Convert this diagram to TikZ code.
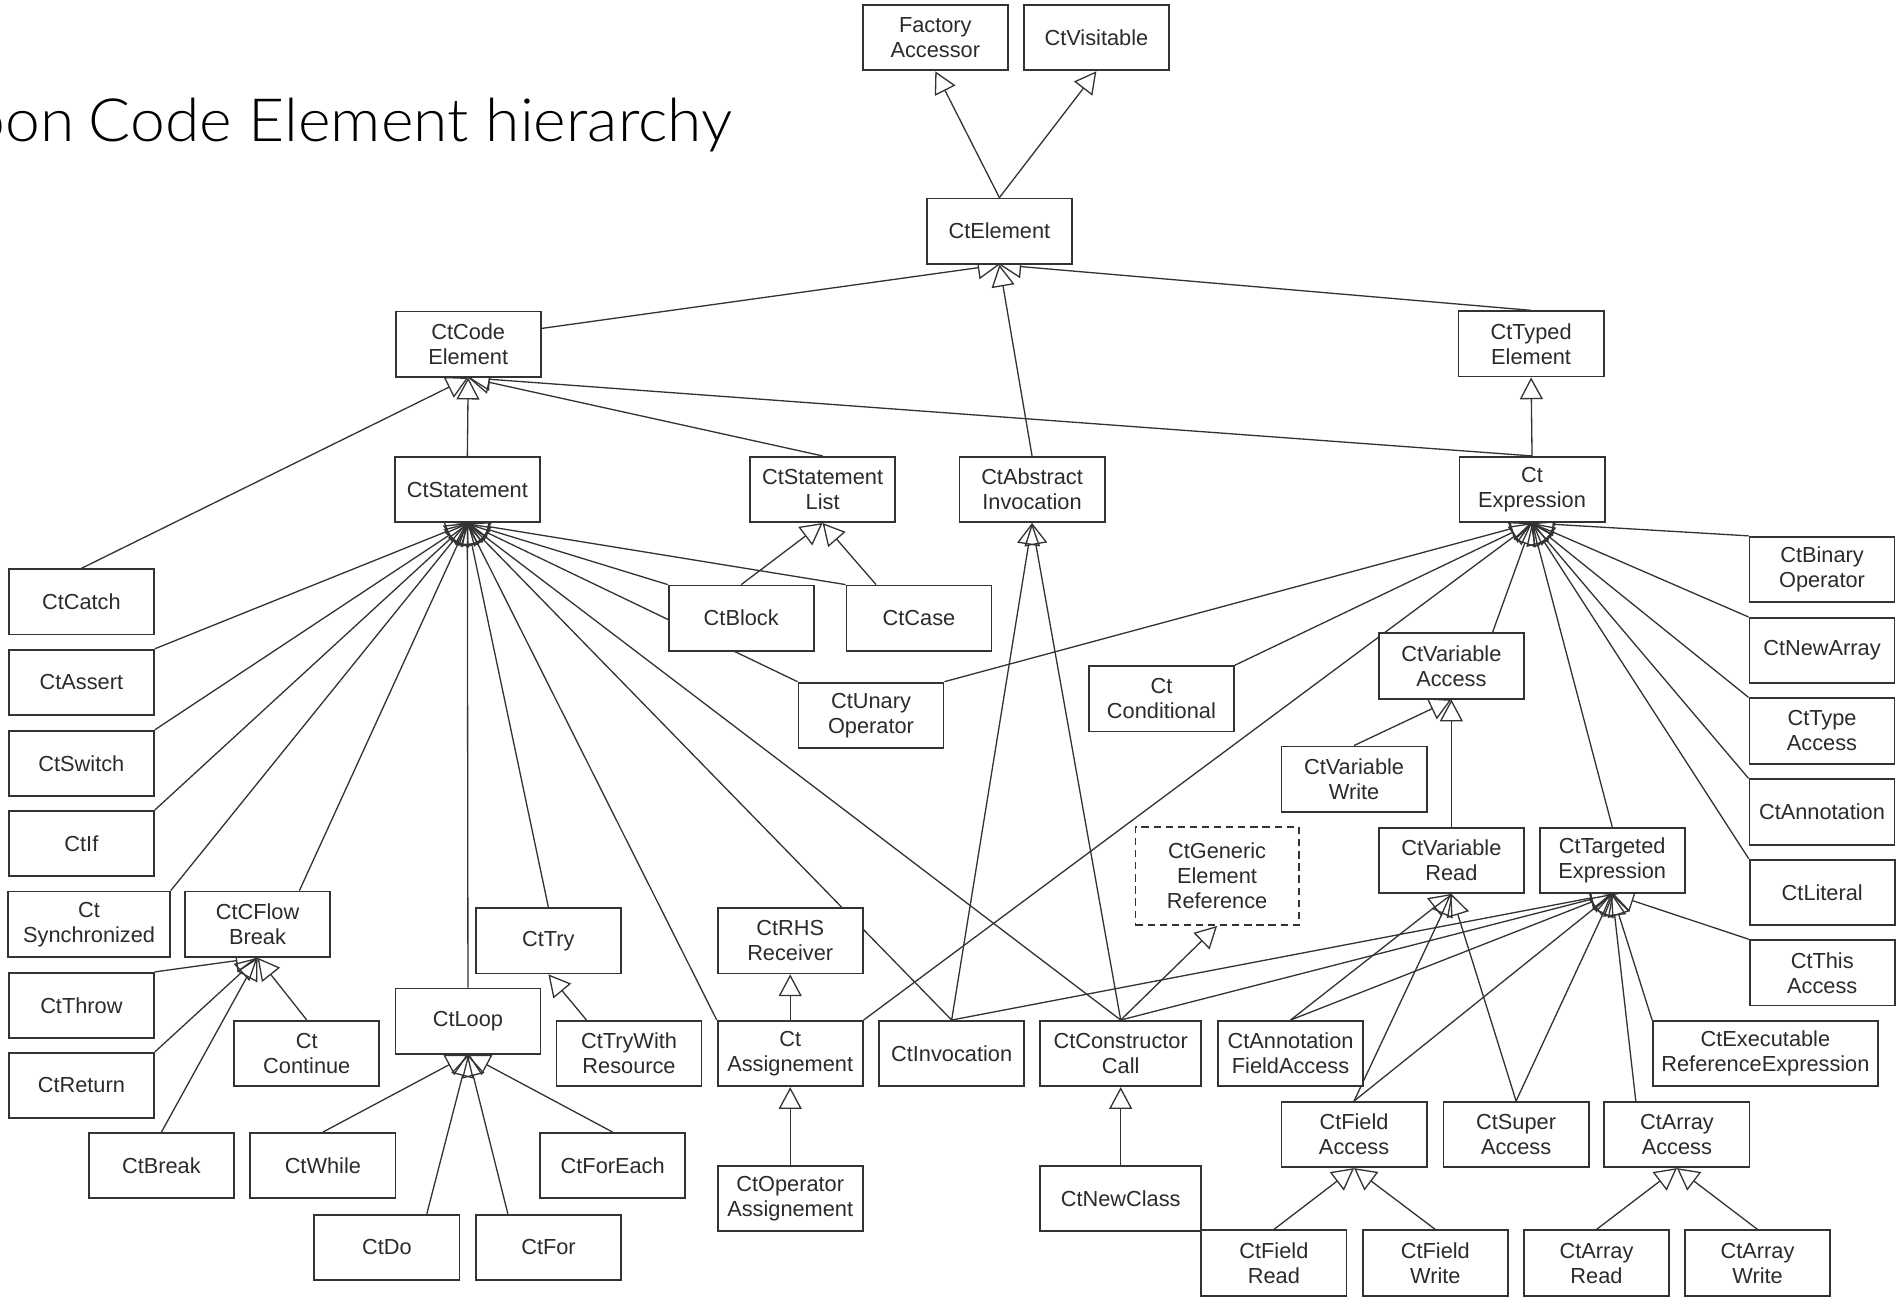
\documentclass[tikz,border=0pt]{standalone}
\usepackage{fontspec}
\setmainfont{Liberation Sans}
\newfontfamily\titlefont{Lato Light}[FakeStretch=1.045]
\usetikzlibrary{arrows.meta,calc}
\pgfdeclarelayer{edges}
\pgfsetlayers{edges,main}
\definecolor{ink}{HTML}{2B2B2B}
\definecolor{wire}{HTML}{333333}
\begin{document}
\begin{tikzpicture}[x=0.6pt,y=-0.6pt,
  cls/.style={draw=wire, line width=0.9pt, fill=white, text=ink, align=center,
    inner sep=0pt, minimum width=72pt, minimum height=32.4pt,
    font=\fontsize{10.8}{12.4}\selectfont},
  wide/.style={minimum width=80.1pt},
  gen/.style={draw=wire, line width=0.65pt,
    -{Triangle[open,length=10.8pt,width=11.4pt]}},
]
\useasboundingbox (0,0) rectangle (1568,1073);

% title, running off the left edge
\begin{scope}
  \clip (0,0) rectangle (1568,1073);
  \node[anchor=base west, inner sep=0pt, text=black,
    font=\titlefont\fontsize{29.6}{30}\selectfont] (title) at (73,116.7)
    {\llap{Spoon\hspace{0.24em}}Code Element hierarchy};
\end{scope}

% ---------------- classes ----------------
\node[cls] (fa)   at (773.5,31.2)  {Factory\\Accessor};
\node[cls] (vis)  at (906.7,31.2)  {CtVisitable};
\node[cls] (el)   at (826.5,191.2) {CtElement};
\node[cls] (code) at (387.2,284.6) {CtCode\\Element};
\node[cls] (typed) at (1266.2,284.4) {CtTyped\\Element};

\node[cls] (stmt)  at (386.5,404.9) {CtStatement};
\node[cls] (slist) at (680.3,404.8) {CtStatement\\List};
\node[cls] (ainv)  at (853.5,404.8) {CtAbstract\\Invocation};
\node[cls] (expr)  at (1267,404.8)  {Ct\\Expression};

\node[cls] (catch)  at (67.3,497.8) {CtCatch};
\node[cls] (assert) at (67.3,564.3) {CtAssert};
\node[cls] (switch) at (67.3,631.3) {CtSwitch};
\node[cls] (if)     at (67.3,697.6) {CtIf};
\node[cls,minimum width=80.1pt] (sync) at (73.7,764.3) {Ct\\Synchronized};
\node[cls] (cflow)  at (213,764.3)  {CtCFlow\\Break};
\node[cls] (throw)  at (67.3,831.5) {CtThrow};
\node[cls] (return) at (67.3,897.7) {CtReturn};
\node[cls] (break)  at (133.5,964)  {CtBreak};
\node[cls] (cont)   at (253.7,871.3) {Ct\\Continue};

\node[cls] (loop)    at (387,844.5)   {CtLoop};
\node[cls] (while)   at (267,964)     {CtWhile};
\node[cls] (do)      at (320,1031.5)  {CtDo};
\node[cls] (for)     at (453.6,1031.5) {CtFor};
\node[cls] (foreach) at (506.7,964)   {CtForEach};
\node[cls] (try)     at (453.5,778)   {CtTry};
\node[cls] (trywr)   at (520.2,871.3) {CtTryWith\\Resource};

\node[cls] (block) at (613,511.2)   {CtBlock};
\node[cls] (case)  at (760,511.2)   {CtCase};
\node[cls] (unary) at (720.3,591.5) {CtUnary\\Operator};
\node[cls] (cond)  at (960.5,577.9) {Ct\\Conditional};

\node[cls] (rhs)      at (653.5,778)   {CtRHS\\Receiver};
\node[cls] (assign)   at (653.5,871.3) {Ct\\Assignement};
\node[cls] (opassign) at (653.5,991.3) {CtOperator\\Assignement};
\node[cls] (inv)      at (787,871.3)   {CtInvocation};
\node[cls,wide] (ccall)    at (926.8,871.3) {CtConstructor\\Call};
\node[cls,wide] (newclass) at (926.8,991.3) {CtNewClass};
\node[cls,dashed,dash pattern=on 3.6pt off 2.4pt,minimum width=81pt,minimum height=48.6pt]
  (generic) at (1006.5,724.5) {CtGeneric\\Element\\Reference};
\node[cls] (afa) at (1067.3,871.3) {CtAnnotation\\FieldAccess};

\node[cls] (varacc)   at (1200.3,550.8) {CtVariable\\Access};
\node[cls] (varwrite) at (1119.8,644.3) {CtVariable\\Write};
\node[cls] (varread)  at (1200.3,711.5) {CtVariable\\Read};
\node[cls] (targeted) at (1333.3,711.5) {CtTargeted\\Expression};

\node[cls] (binop)   at (1506.8,470.9) {CtBinary\\Operator};
\node[cls] (newarr)  at (1506.8,538)   {CtNewArray};
\node[cls] (typeacc) at (1506.8,604.5) {CtType\\Access};
\node[cls] (annot)   at (1506.8,671.5) {CtAnnotation};
\node[cls] (literal) at (1507,738)     {CtLiteral};
\node[cls] (this)    at (1507,804.5)   {CtThis\\Access};
\node[cls,minimum width=111.6pt] (exec) at (1460,871.3) {CtExecutable\\ReferenceExpression};

\node[cls] (fieldacc) at (1119.8,938.3) {CtField\\Access};
\node[cls] (superacc) at (1253.8,938.3) {CtSuper\\Access};
\node[cls] (arracc)   at (1386.8,938.3) {CtArray\\Access};
\node[cls] (fread)    at (1053.5,1044.5) {CtField\\Read};
\node[cls] (fwrite)   at (1187,1044.5)   {CtField\\Write};
\node[cls] (aread)    at (1320.3,1044.5) {CtArray\\Read};
\node[cls] (awrite)   at (1453.5,1044.5) {CtArray\\Write};

% ---------------- generalizations ----------------
\begin{pgfonlayer}{edges}
% root interfaces
\draw[gen] (el.north) -- (fa.south);
\draw[gen] (el.north) -- (vis.south);
\draw[gen] ($(code.east)+(0,-13)$) -- (el.south);
\draw[gen] (ainv.north) -- (el.south);
\draw[gen] (typed.north) -- (el.south);
% code elements
\draw[gen] (stmt.north) -- (code.south);
\draw[gen] (catch.north) -- (code.south);
\draw[gen] (slist.north) -- (code.south);
\draw[gen] (expr.north) -- (code.south);
\draw[gen] (expr.north) -- (typed.south);
% statements
\draw[gen] (assert.north east) -- (stmt.south);
\draw[gen] (switch.north east) -- (stmt.south);
\draw[gen] (if.north east) -- (stmt.south);
\draw[gen] (sync.north east) -- (stmt.south);
\draw[gen] ($(cflow.north)+(34.6,0)$) -- (stmt.south);
\draw[gen] (loop.north) -- (stmt.south);
\draw[gen] (try.north) -- (stmt.south);
\draw[gen] (block.north west) -- (stmt.south);
\draw[gen] (case.north west) -- (stmt.south);
\draw[gen] (unary.north west) -- (stmt.south);
\draw[gen] (assign.north west) -- (stmt.south);
\draw[gen] (inv.north) -- (stmt.south);
\draw[gen] (ccall.north) -- (stmt.south);
% control flow breaks
\draw[gen] (throw.north east) -- (cflow.south);
\draw[gen] (return.north east) -- (cflow.south);
\draw[gen] (break.north) -- (cflow.south);
\draw[gen] (cont.north) -- (cflow.south);
% loops
\draw[gen] (while.north) -- (loop.south);
\draw[gen] ($(do.north)+(33,0)$) -- (loop.south);
\draw[gen] ($(for.north)+(-33.6,0)$) -- (loop.south);
\draw[gen] (foreach.north) -- (loop.south);
\draw[gen] ($(trywr.north)+(-35.2,0)$) -- (try.south);
% statement lists
\draw[gen] (block.north) -- (slist.south);
\draw[gen] ($(case.north)+(-35.5,0)$) -- (slist.south);
% expressions
\draw[gen] (unary.north east) -- (expr.south);
\draw[gen] (cond.north east) -- (expr.south);
\draw[gen] (assign.north east) -- (expr.south);
\draw[gen] ($(varacc.north)+(34,0)$) -- (expr.south);
\draw[gen] (targeted.north) -- (expr.south);
\draw[gen] (binop.north west) -- (expr.south);
\draw[gen] (newarr.north west) -- (expr.south);
\draw[gen] (typeacc.north west) -- (expr.south);
\draw[gen] (annot.north west) -- (expr.south);
\draw[gen] (literal.north west) -- (expr.south);
% invocations
\draw[gen] (inv.north) -- (ainv.south);
\draw[gen] (ccall.north) -- (ainv.south);
\draw[gen] (ccall.north) -- (generic.south);
\draw[gen] (newclass.north) -- (ccall.south);
% targeted expressions
\draw[gen] (inv.north) -- (targeted.south);
\draw[gen] (ccall.north) -- (targeted.south);
\draw[gen] (afa.north) -- (targeted.south);
\draw[gen] (fieldacc.north) -- (targeted.south);
\draw[gen] (superacc.north) -- (targeted.south);
\draw[gen] ($(arracc.north)+(-34,0)$) -- (targeted.south);
\draw[gen] (exec.north west) -- (targeted.south);
\draw[gen] (this.north west) -- (targeted.south);
% variable accesses
\draw[gen] (afa.north) -- (varread.south);
\draw[gen] (fieldacc.north) -- (varread.south);
\draw[gen] (superacc.north) -- (varread.south);
\draw[gen] (varwrite.north) -- (varacc.south);
\draw[gen] (varread.north) -- (varacc.south);
% assignments
\draw[gen] (assign.north) -- (rhs.south);
\draw[gen] (opassign.north) -- (assign.south);
% field and array accesses
\draw[gen] (fread.north) -- (fieldacc.south);
\draw[gen] (fwrite.north) -- (fieldacc.south);
\draw[gen] (aread.north) -- (arracc.south);
\draw[gen] (awrite.north) -- (arracc.south);
\end{pgfonlayer}
\end{tikzpicture}
\end{document}
